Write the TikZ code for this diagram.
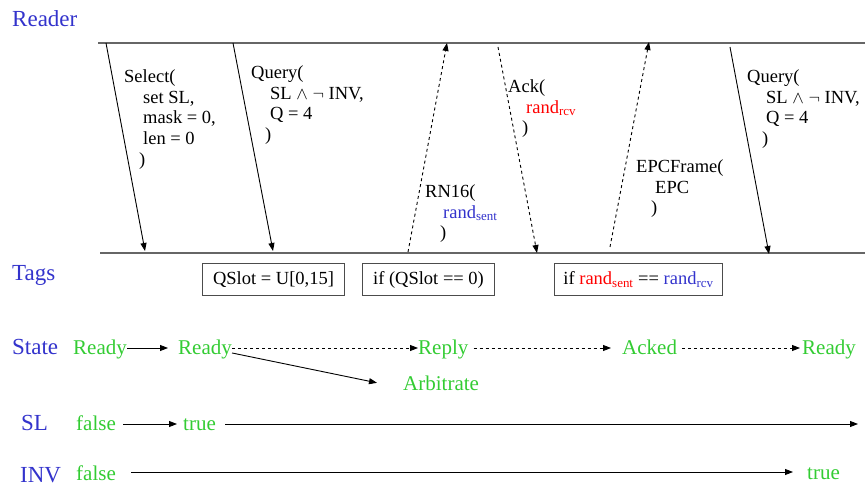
\documentclass[tikz,border=0pt]{standalone}
\usepackage{fontspec}
\setmainfont{Liberation Serif}
\usetikzlibrary{arrows.meta,calc}
\definecolor{lblue}{RGB}{51,51,204}
\definecolor{lgreen}{RGB}{51,204,51}
\definecolor{lred}{RGB}{255,0,0}
\begin{document}
\begin{tikzpicture}[x=1pt,y=-1pt,
  lane/.style={font=\fontsize{23}{26}\selectfont, text=lblue, inner sep=0pt, anchor=base west},
  st/.style={font=\fontsize{21}{24}\selectfont, text=lgreen, inner sep=0pt, anchor=base west},
  msg/.style={font=\fontsize{18.5}{20.7}\selectfont, align=left, inner sep=0pt, anchor=north west},
  life/.style={draw=black!60, line width=1.3pt},
  tip/.style={-{Triangle[length=8pt,width=6pt]}},
  sig/.style={tip, line width=0.9pt},
  dsig/.style={tip, line width=0.9pt, dash pattern=on 3pt off 3pt},
  cbox/.style={draw=black!70, line width=1pt, font=\fontsize{18.5}{20.7}\selectfont, minimum height=32pt, inner sep=0pt, anchor=north west}
]
\useasboundingbox (0,0) rectangle (865,486);

% lane labels
\node[lane] (reader) at (12,27) {Reader};
\node[lane] (tags) at (12,281) {Tags};
\node[lane] (state) at (12,355) {State};
\node[lane] (sl) at (21,430) {SL};
\node[lane] (inv) at (20,482) {INV};

% lifelines
\coordinate (rl) at (98,43);
\coordinate (rr) at (865,43);
\coordinate (tl) at (100,253);
\coordinate (tr) at (865,253);
\draw[life] (rl) -- (rr);
\draw[life] (tl) -- (tr);

% messages
\coordinate (m1a) at (106,43);  \coordinate (m1b) at (145,251);
\coordinate (m2a) at (233,43);  \coordinate (m2b) at (273,251);
\coordinate (m3a) at (408,252); \coordinate (m3b) at (447,43);
\coordinate (m4a) at (498,47);  \coordinate (m4b) at (537,253);
\coordinate (m5a) at (610,247); \coordinate (m5b) at (649,42);
\coordinate (m6a) at (730,47);  \coordinate (m6b) at (769,254);
\draw[sig] (m1a) -- (m1b);
\draw[sig] (m2a) -- (m2b);
\draw[dsig] (m3a) -- (m3b);
\draw[dsig] (m4a) -- (m4b);
\draw[dsig] (m5a) -- (m5b);
\draw[sig] (m6a) -- (m6b);

\node[msg] (selt) at (124,69.5) {Select(\\\hspace*{19pt}set SL,\\\hspace*{19pt}mask = 0,\\\hspace*{19pt}len = 0\\\hspace*{15pt})};
\node[msg] (q1t) at (251,65.5) {Query(\\\hspace*{19pt}SL $\wedge$ $\neg$ INV,\\\hspace*{19pt}Q = 4\\\hspace*{14pt})};
\node[msg] (ackt) at (508,79.5) {Ack(\\\hspace*{18pt}\textcolor{lred}{rand\textsubscript{rcv}}\\\hspace*{14pt})};
\node[msg] (rnt) at (425,184.5) {RN16(\\\hspace*{18pt}\textcolor{lblue}{rand\textsubscript{sent}}\\\hspace*{15pt})};
\node[msg] (epct) at (636,159.5) {EPCFrame(\\\hspace*{19pt}EPC\\\hspace*{15pt})};
\node[msg] (q2t) at (747,69.5) {Query(\\\hspace*{19pt}SL $\wedge$ $\neg$ INV,\\\hspace*{19pt}Q = 4\\\hspace*{15pt})};

% tag boxes
\node[cbox, minimum width=142pt] (b1) at (202,263) {QSlot = U[0,15]};
\node[cbox, minimum width=132pt] (b2) at (362,263) {if (QSlot == 0)};
\node[cbox, minimum width=168pt] (b3) at (554,263) {if \textcolor{lred}{rand\textsubscript{sent}} == \textcolor{lblue}{rand\textsubscript{rcv}}};

% state row
\coordinate (sty) at (0,348);
\node[st] (r1) at (73,355) {Ready};
\node[st] (r2) at (178,355) {Ready};
\node[st] (rep) at (418,355) {Reply};
\node[st] (ack) at (622,355) {Acked};
\node[st] (rdy) at (802,355) {Ready};
\node[st] (arb) at (403,390) {Arbitrate};
\draw[sig, shorten >=10pt] (r1.east |- sty) -- (r2.west |- sty);
\draw[dsig] (r2.east |- sty) -- (rep.west |- sty);
\draw[dsig, shorten <=5pt, shorten >=11pt] (rep.east |- sty) -- (ack.west |- sty);
\draw[dsig, shorten <=5pt, shorten >=2pt] (ack.east |- sty) -- (rdy.west |- sty);
\draw[sig] ([yshift=-3pt]r2.east) -- ([xshift=-26pt]arb.west);

% SL row
\coordinate (sly) at (858,424);
\node[st] (f1) at (76,430) {false};
\node[st] (t1) at (183,430) {true};
\draw[sig, shorten <=7pt, shorten >=6pt] (f1.east |- sly) -- (t1.west |- sly);
\draw[sig, shorten <=9pt] (t1.east |- sly) -- (sly);

% INV row
\coordinate (invy) at (0,472);
\node[st] (f2) at (76,480) {false};
\node[st] (t2) at (807,479) {true};
\draw[sig, shorten <=15pt, shorten >=14pt] (f2.east |- invy) -- (t2.west |- invy);
\end{tikzpicture}
\end{document}
